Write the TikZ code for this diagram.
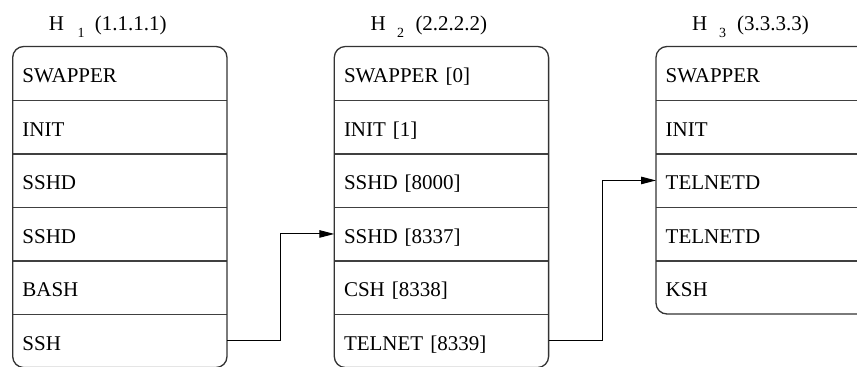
\documentclass[tikz,border=0pt]{standalone}
\usepackage{fontspec}
\setmainfont{Liberation Serif}
\usetikzlibrary{arrows.meta}
\begin{document}
\begin{tikzpicture}[x=1bp,y=-1bp,
  row/.style={anchor=north west, minimum height=53.5bp, inner xsep=9.5bp, inner ysep=0pt,
    text width=195.3bp, align=left, text height=19bp, text depth=0bp,
    font=\fontsize{21bp}{25bp}\selectfont},
  hdr/.style={anchor=base west, inner sep=0pt, font=\fontsize{21bp}{25bp}\selectfont},
  subs/.style={anchor=base west, inner sep=0pt, font=\fontsize{14bp}{17bp}\selectfont},
  frame/.style={draw=black!80, line width=1.3bp, rounded corners=11bp},
  divider/.style={draw=black!75, line width=1.2bp},
  conn/.style={draw=black, line width=1bp, -{Triangle[length=15bp,width=7.5bp]}}]
\useasboundingbox (0,0) rectangle (857,366);
\clip (0,0) rectangle (857,366);
\fill[white] (0,0) rectangle (857,366);
% headers
\node[hdr] (h1H) at (48.7,30) {H};
\node[subs] (h1s) at (77.5,37) {1};
\node[hdr] (h1ip) at (94.7,30) {(1.1.1.1)};
\node[hdr] (h2H) at (370.3,30) {H};
\node[subs] (h2s) at (397,37) {2};
\node[hdr] (h2ip) at (415.3,30) {(2.2.2.2)};
\node[hdr] (h3H) at (692,30) {H};
\node[subs] (h3s) at (719,37) {3};
\node[hdr] (h3ip) at (737,30) {(3.3.3.3)};
% box 1
\foreach \t [count=\i] in {{SWAPPER},{INIT},{SSHD},{SSHD},{BASH},{SSH}}
  \node[row] (h1r\i) at (12.7,{46.5+(\i-1)*53.5}) {\t};
\foreach \i in {1,...,5} \draw[divider] (h1r\i.south west) -- (h1r\i.south east);
\draw[frame] (12.7,46.5) rectangle (227,367.5);
% box 2
\foreach \t [count=\i] in {{SWAPPER [0]},{INIT [1]},{SSHD [8000]},{SSHD [8337]},{CSH [8338]},{TELNET [8339]}}
  \node[row] (h2r\i) at (334.3,{46.5+(\i-1)*53.5}) {\t};
\foreach \i in {1,...,5} \draw[divider] (h2r\i.south west) -- (h2r\i.south east);
\draw[frame] (334.3,46.5) rectangle (548.6,367.5);
% box 3
\foreach \t [count=\i] in {{SWAPPER},{INIT},{TELNETD},{TELNETD},{KSH}}
  \node[row] (h3r\i) at (656,{46.5+(\i-1)*53.5}) {\t};
\foreach \i in {1,...,4} \draw[divider] (h3r\i.south west) -- (h3r\i.south east);
\draw[frame] (656,46.5) rectangle (870.3,314);
% connectors
\draw[conn] (h1r6.east) -- ++(53,0) |- (h2r4.west);
\draw[conn] (h2r6.east) -- ++(53.4,0) |- (h3r3.west);
\end{tikzpicture}
\end{document}
